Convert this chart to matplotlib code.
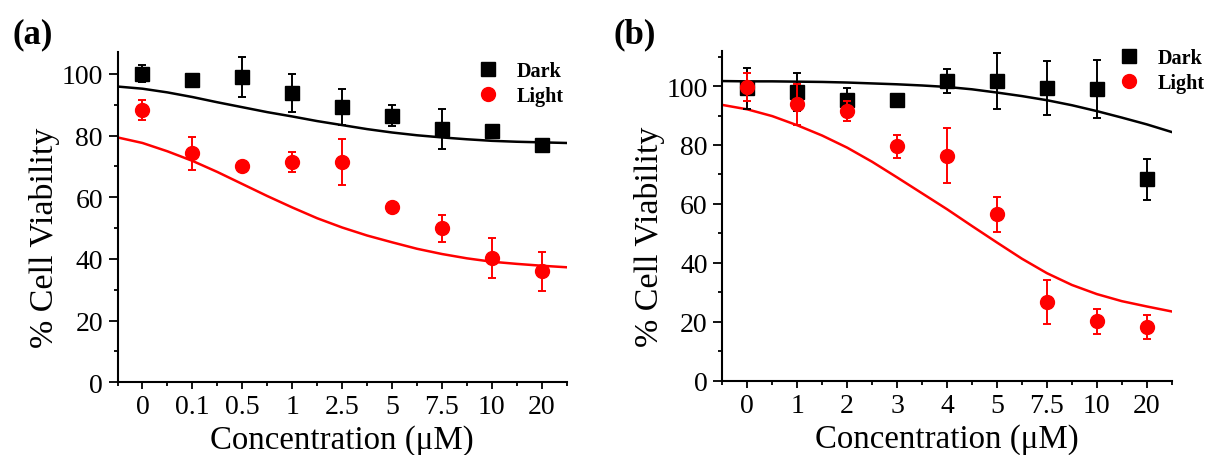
import numpy as np
import matplotlib.pyplot as plt
from matplotlib.ticker import MultipleLocator

plt.rcParams['font.family'] = ['Liberation Serif', 'DejaVu Serif']

# ---- panel (a) ----
labels_a = ['0', '0.1', '0.5', '1', '2.5', '5', '7.5', '10', '20']
dark_a = [100.1, 98.1, 98.9, 93.7, 89.3, 86.4, 82.1, 81.4, 76.8]
dark_a_err = [2.8, 2.0, 6.5, 6.2, 5.8, 3.4, 6.5, 0.8, 1.5]
light_a = [88.3, 74.3, 70.2, 71.5, 71.5, 56.9, 49.9, 40.3, 36.0]
light_a_err = [3.2, 5.3, 0.8, 3.3, 7.4, 0.8, 4.4, 6.5, 6.3]
# fitted curves at half-category steps from -0.5 to 8.5
fit_x = [-0.5, 0, 0.5, 1, 1.5, 2, 2.5, 3, 3.5, 4, 4.5, 5, 5.5, 6, 6.5, 7, 7.5, 8, 8.5]
fit_dark_a = [95.9, 95.2, 94.0, 92.5, 90.8, 89.2, 87.6, 86.2, 84.7, 83.4, 82.1,
              81.0, 80.1, 79.4, 78.8, 78.3, 78.0, 77.8, 77.6]
fit_light_a = [79.4, 77.6, 74.9, 71.8, 68.2, 64.3, 60.4, 56.7, 53.2, 50.2, 47.6,
               45.4, 43.3, 41.6, 40.2, 39.1, 38.4, 37.8, 37.3]

# ---- panel (b) ----
labels_b = ['0', '1', '2', '3', '4', '5', '7.5', '10', '20']
dark_b = [99.2, 98.0, 95.2, 95.2, 101.7, 101.7, 99.4, 98.9, 68.4]
dark_b_err = [7.0, 6.5, 4.0, 0.8, 4.2, 9.4, 9.2, 9.9, 7.0]
light_b = [99.7, 93.8, 91.5, 79.5, 76.3, 56.5, 26.8, 20.1, 18.3]
light_b_err = [4.8, 7.0, 3.5, 3.9, 9.3, 6.0, 7.4, 4.1, 4.1]
fit_dark_b = [101.7, 101.6, 101.6, 101.5, 101.4, 101.2, 100.9, 100.6, 100.2, 99.7,
              98.9, 97.8, 96.6, 95.2, 93.5, 91.5, 89.3, 87.0, 84.4]
fit_light_b = [93.6, 92.1, 89.8, 86.7, 83.2, 79.1, 74.3, 69.0, 63.6, 58.2, 52.5,
               46.9, 41.4, 36.5, 32.5, 29.4, 27.0, 25.2, 23.5]

fig = plt.figure(figsize=(12.13, 4.56), dpi=100)
ax1 = fig.add_axes([0.0969, 0.1594, 0.3703, 0.7237])
ax2 = fig.add_axes([0.5955, 0.1629, 0.3705, 0.7237])


def draw(ax, labels, dark, dark_err, light, light_err, fd, fl, ymax, leg_xy):
    x = np.arange(len(labels))
    ax.plot(fit_x, fd, color='black', lw=1.8, zorder=2)
    ax.plot(fit_x, fl, color='red', lw=1.8, zorder=2)
    ax.errorbar(x, dark, yerr=dark_err, fmt='s', color='black', ms=9.5,
                elinewidth=1.4, capsize=3, capthick=1.4, label='Dark', zorder=3)
    ax.errorbar(x, light, yerr=light_err, fmt='o', color='red', ms=10,
                elinewidth=1.4, capsize=3, capthick=1.4, label='Light', zorder=4)
    ax.set_xlim(-0.5, 8.5)
    ax.set_ylim(0, ymax)
    ax.set_xticks(x)
    ax.set_xticklabels(labels)
    ax.xaxis.set_minor_locator(MultipleLocator(0.5))
    ax.yaxis.set_major_locator(MultipleLocator(20))
    ax.yaxis.set_minor_locator(MultipleLocator(10))
    for s in ['top', 'right']:
        ax.spines[s].set_visible(False)
    for s in ['left', 'bottom']:
        ax.spines[s].set_linewidth(1.5)
    ax.tick_params(which='both', direction='out', width=1.3, labelsize=20)
    ax.tick_params(axis='x', which='major', length=5, pad=3.5)
    ax.tick_params(axis='y', which='major', length=6.5, pad=4)
    ax.tick_params(which='minor', length=3)
    ax.set_xlabel('Concentration (μM)', fontsize=23.7, labelpad=4)
    ax.set_ylabel('% Cell Viability', fontsize=24.5)
    ax.yaxis.set_label_coords(-0.128, 0.44)
    handles, lbls = ax.get_legend_handles_labels()
    hs = [h[0] for h in handles]
    ax.legend(hs, lbls, loc='upper left', bbox_to_anchor=leg_xy,
              frameon=False, borderpad=0, borderaxespad=0,
              handlelength=1.0, handletextpad=0.9, labelspacing=0.25,
              prop={'size': 14.5, 'weight': 'bold'})


draw(ax1, labels_a, dark_a, dark_a_err, light_a, light_a_err,
     fit_dark_a, fit_light_a, 107, (0.803, 0.9745))
draw(ax2, labels_b, dark_b, dark_b_err, light_b, light_b_err,
     fit_dark_b, fit_light_b, 112, (0.883, 1.008))

fig.text(0.0105, 0.923, '(a)', fontsize=25, fontweight='bold', va='center', ha='left')
fig.text(0.506, 0.923, '(b)', fontsize=25, fontweight='bold', va='center', ha='left')

fig.savefig('out.png', dpi=100)
